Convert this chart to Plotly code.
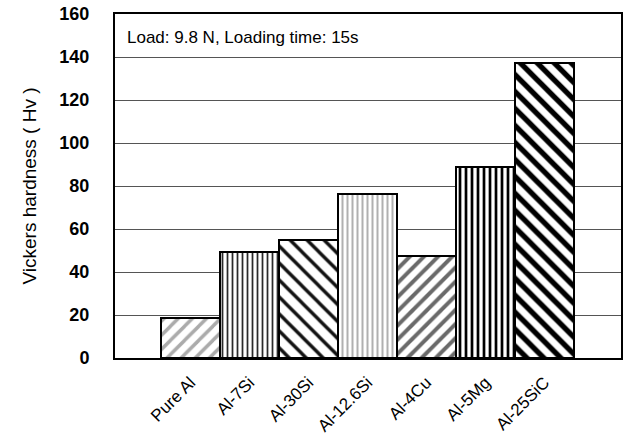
import plotly.graph_objects as go

# Vickers hardness of aluminium alloys and composite
alloys = ["Pure Al", "Al-7Si", "Al-30Si", "Al-12.6Si", "Al-4Cu", "Al-5Mg", "Al-25SiC"]
hardness = [18.5, 49.5, 55, 76.5, 47.5, 89, 137]

# hatch style for each bar
shapes = ["/", "|", "\\", "|", "/", "|", "\\"]
hatch_colors = ["#ababab", "#2a2a2a", "#111111", "#b0b0b0", "#6a6a6a", "#000000", "#000000"]
hatch_sizes = [10, 5, 12, 5, 10, 6, 12]
hatch_solidity = [0.35, 0.35, 0.28, 0.4, 0.4, 0.45, 0.45]

y_ticks = [0, 20, 40, 60, 80, 100, 120, 140, 160]

fig = go.Figure()
fig.add_trace(go.Bar(
    x=list(range(len(alloys))),
    y=hardness,
    width=1.0,
    marker=dict(
        color="white",
        line=dict(color="black", width=2),
        pattern=dict(
            shape=shapes,
            fgcolor=hatch_colors,
            fgopacity=1,
            bgcolor="white",
            size=hatch_sizes,
            solidity=hatch_solidity,
            fillmode="replace",
        ),
    ),
    showlegend=False,
))

fig.add_annotation(
    text="Load: 9.8 N, Loading time: 15s",
    xref="paper", yref="paper", x=0.02, y=0.933,
    xanchor="left", yanchor="middle", showarrow=False,
    font=dict(family="Liberation Sans, Arial, sans-serif", size=17, color="black"),
)

fig.update_layout(
    width=627, height=441,
    margin=dict(l=115, r=4, t=13, b=83),
    paper_bgcolor="white", plot_bgcolor="white",
    bargap=0,
    font=dict(family="Liberation Sans, Arial, sans-serif", color="black"),
)
fig.update_xaxes(
    range=[-1.28, 7.3],
    tickmode="array", tickvals=list(range(len(alloys))), ticktext=alloys,
    tickangle=-45, tickfont=dict(size=17), ticklabelstandoff=6,
    showgrid=False, zeroline=False, ticks="",
    showline=True, linecolor="black", linewidth=2, mirror=True,
)
fig.update_yaxes(
    range=[0, 160],
    tickmode="array", tickvals=y_ticks,
    ticktext=[f"<b>{v}</b>" for v in y_ticks],
    tickfont=dict(size=18), ticks="", ticklabelstandoff=20,
    showgrid=True, gridcolor="#555555", gridwidth=1, zeroline=False,
    showline=True, linecolor="black", linewidth=2, mirror=True,
    title=dict(text="Vickers hardness ( Hv )", font=dict(size=19), standoff=18),
)

fig.write_html("out.html")
